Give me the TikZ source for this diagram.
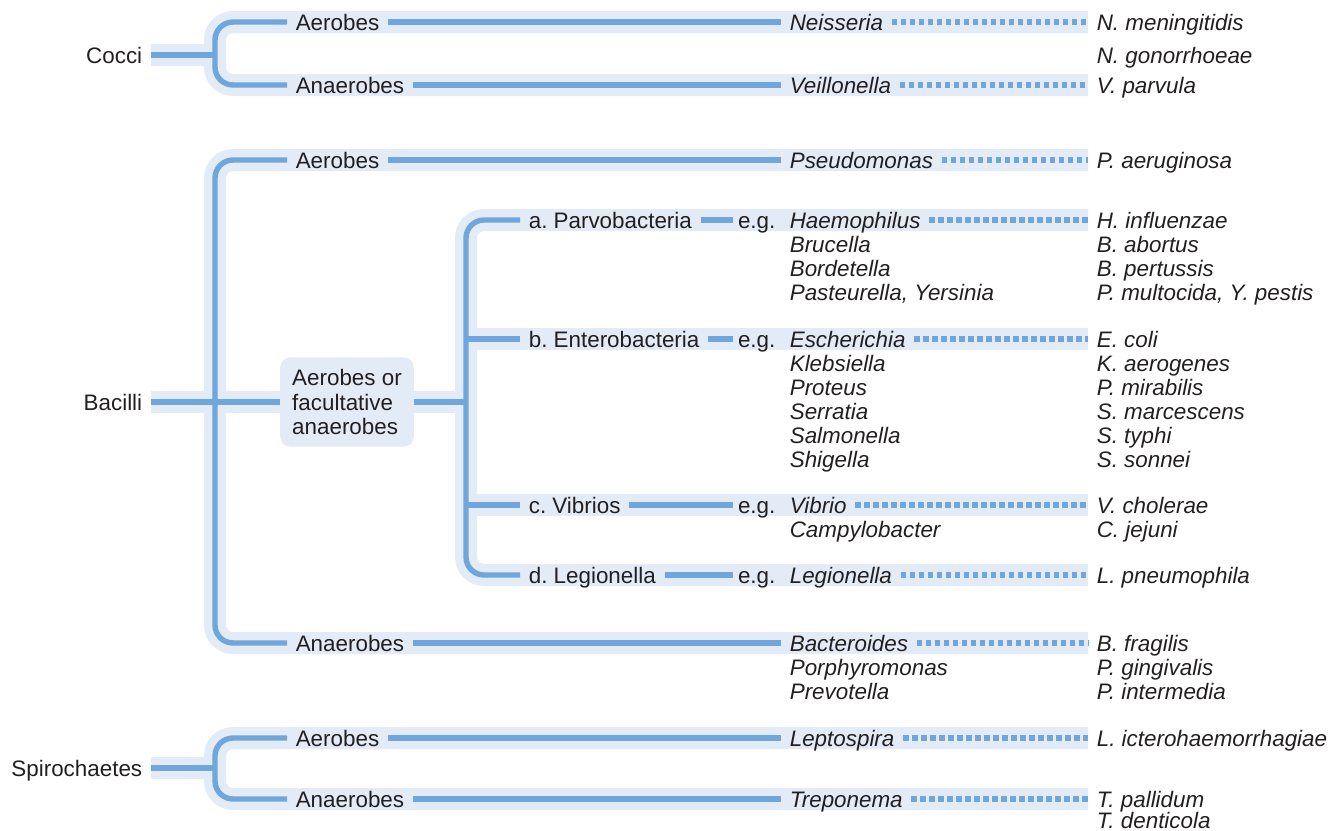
\documentclass[tikz,border=0pt]{standalone}
\usepackage{fontspec}
\setmainfont{Liberation Sans}
\usepackage{tikz}
\usetikzlibrary{backgrounds}
\definecolor{bandFill}{RGB}{227,235,247}
\definecolor{stemBlue}{RGB}{111,167,220}
\definecolor{ink}{RGB}{35,31,32}
\newcommand{\labelfont}{\fontsize{11.2}{12.2}\selectfont\frenchspacing}
\tikzset{
  band/.style={draw=bandFill, line width=11pt, rounded corners=9pt},
  stemline/.style={draw=stemBlue, line width=2.7pt, rounded corners=9pt},
  dotline/.style={draw=stemBlue, line width=2.7pt, dash pattern=on 2.75pt off 1.75pt},
  lbl/.style={
    anchor=west,
    inner xsep=4.4pt,
    inner ysep=2pt,
    outer sep=0pt,
    text height=8pt,
    text depth=0pt,
    text=ink,
    font=\labelfont
  },
  cls/.style={lbl, anchor=east},
  gen/.style={lbl, font=\labelfont\itshape},
  eg/.style={lbl, inner xsep=2.5pt},
  facbox/.style={
    fill=bandFill,
    rounded corners=5pt,
    minimum width=64pt,
    minimum height=38pt,
    inner sep=6pt,
    outer sep=0pt,
    align=left,
    text=ink,
    font=\labelfont
  }
}

\begin{document}
\begin{tikzpicture}[x=0.5pt,y=-0.5pt]
  \useasboundingbox (0,0) rectangle (1333,830);

  % Cocci
  \node[cls] (cocci) at (151,55) {Cocci};
  \node[lbl] (cae) at (287,22) {Aerobes};
  \node[lbl] (cana) at (287,85) {Anaerobes};
  \node[gen] (neis) at (781,22) {Neisseria};
  \node[gen] (veil) at (781,85) {Veillonella};
  \node[gen] (nmen) at (1088,22) {N. meningitidis};
  \node[gen] (ngon) at (1088,55) {N. gonorrhoeae};
  \node[gen] (vpar) at (1088,85) {V. parvula};
  \coordinate (cj) at (215,55);

  % Bacilli
  \node[cls] (bacilli) at (151,402) {Bacilli};
  \node[lbl] (bae) at (287,160) {Aerobes};
  \node[gen] (pseu) at (781,160) {Pseudomonas};
  \node[gen] (paer) at (1088,160) {P. aeruginosa};
  \node[facbox] (facul) at (347,402) {Aerobes or\\facultative\\anaerobes};
  \coordinate (bj) at (215,402);
  \coordinate (sj) at (466,402);

  \node[lbl] (parvo) at (520,220) {a. Parvobacteria};
  \node[eg] (eg1) at (733,220) {e.g.};
  \node[gen] (haem) at (781,220) {Haemophilus};
  \node[gen] (hinf) at (1088,220) {H. influenzae};

  \node[lbl] (entero) at (520,339) {b. Enterobacteria};
  \node[eg] (eg2) at (733,339) {e.g.};
  \node[gen] (esch) at (781,339) {Escherichia};
  \node[gen] (ecol) at (1088,339) {E. coli};

  \node[lbl] (vibrios) at (520,505) {c. Vibrios};
  \node[eg] (eg3) at (733,505) {e.g.};
  \node[gen] (vib) at (781,505) {Vibrio};
  \node[gen] (vcho) at (1088,505) {V. cholerae};

  \node[lbl] (legio) at (520,575) {d. Legionella};
  \node[eg] (eg4) at (733,575) {e.g.};
  \node[gen] (leg) at (781,575) {Legionella};
  \node[gen] (lpne) at (1088,575) {L. pneumophila};

  \node[lbl] (bana) at (287,643) {Anaerobes};
  \node[gen] (bact) at (781,643) {Bacteroides};
  \node[gen] (bfra) at (1088,643) {B. fragilis};

  \foreach \y/\g/\s in {244/Brucella/B. abortus, 268/Bordetella/B. pertussis,
      292/{Pasteurella, Yersinia}/{P. multocida, Y. pestis},
      363/Klebsiella/K. aerogenes, 387/Proteus/P. mirabilis,
      411/Serratia/S. marcescens, 435/Salmonella/S. typhi, 459/Shigella/S. sonnei,
      529/Campylobacter/C. jejuni,
      667/Porphyromonas/P. gingivalis, 691/Prevotella/P. intermedia}{
    \node[gen] (g\y) at (781,\y) {\g};
    \node[gen] (s\y) at (1088,\y) {\s};
  }

  % Spirochaetes
  \node[cls] (spiro) at (151,768) {Spirochaetes};
  \node[lbl] (sae) at (287,738) {Aerobes};
  \node[lbl] (sana) at (287,799) {Anaerobes};
  \node[gen] (lept) at (781,738) {Leptospira};
  \node[gen] (trep) at (781,799) {Treponema};
  \node[gen] (lict) at (1088,738) {L. icterohaemorrhagiae};
  \node[gen] (tpal) at (1088,799) {T. pallidum};
  \node[gen] (tden) at (1088,820) {T. denticola};
  \coordinate (pj) at (215,768);

  \begin{scope}[on background layer]
    \draw[band] (nmen.west) -- (nmen.west -| cj) -- (vpar.west -| cj) -- (vpar.west);
    \draw[band] (cocci.east) -- (cj);
    \draw[band] (paer.west) -- (paer.west -| bj) -- (bfra.west -| bj) -- (bfra.west);
    \draw[band] (bacilli.east) -- (sj);
    \draw[band] (hinf.west) -- (hinf.west -| sj) -- (lpne.west -| sj) -- (lpne.west);
    \draw[band] (ecol.west -| sj) -- (ecol.west);
    \draw[band] (vcho.west -| sj) -- (vcho.west);
    \draw[band] (lict.west) -- (lict.west -| pj) -- (tpal.west -| pj) -- (tpal.west);
    \draw[band] (spiro.east) -- (pj);

    \draw[stemline] (cae.west) -- (cae.west -| cj) -- (cana.west -| cj) -- (cana.west);
    \draw[stemline] (cocci.east) -- (cj);
    \draw[stemline] (cae.east) -- (neis.west);
    \draw[stemline] (cana.east) -- (veil.west);
    \draw[dotline] (neis.east) -- (nmen.west);
    \draw[dotline] (veil.east) -- (vpar.west);

    \draw[stemline] (bae.west) -- (bae.west -| bj) -- (bana.west -| bj) -- (bana.west);
    \draw[stemline] (bacilli.east) -- (facul.west);
    \draw[stemline] (facul.east) -- (sj);
    \draw[stemline] (bae.east) -- (pseu.west);
    \draw[stemline] (bana.east) -- (bact.west);
    \draw[dotline] (pseu.east) -- (paer.west);
    \draw[dotline] (bact.east) -- (bfra.west);

    \draw[stemline] (parvo.west) -- (parvo.west -| sj) -- (legio.west -| sj) -- (legio.west);
    \draw[stemline] (entero.west -| sj) -- (entero.west);
    \draw[stemline] (vibrios.west -| sj) -- (vibrios.west);
    \draw[stemline] (parvo.east) -- (eg1.west);
    \draw[stemline] (entero.east) -- (eg2.west);
    \draw[stemline] (vibrios.east) -- (eg3.west);
    \draw[stemline] (legio.east) -- (eg4.west);
    \draw[dotline] (haem.east) -- (hinf.west);
    \draw[dotline] (esch.east) -- (ecol.west);
    \draw[dotline] (vib.east) -- (vcho.west);
    \draw[dotline] (leg.east) -- (lpne.west);

    \draw[stemline] (sae.west) -- (sae.west -| pj) -- (sana.west -| pj) -- (sana.west);
    \draw[stemline] (spiro.east) -- (pj);
    \draw[stemline] (sae.east) -- (lept.west);
    \draw[stemline] (sana.east) -- (trep.west);
    \draw[dotline] (lept.east) -- (lict.west);
    \draw[dotline] (trep.east) -- (tpal.west);
  \end{scope}
\end{tikzpicture}
\end{document}
